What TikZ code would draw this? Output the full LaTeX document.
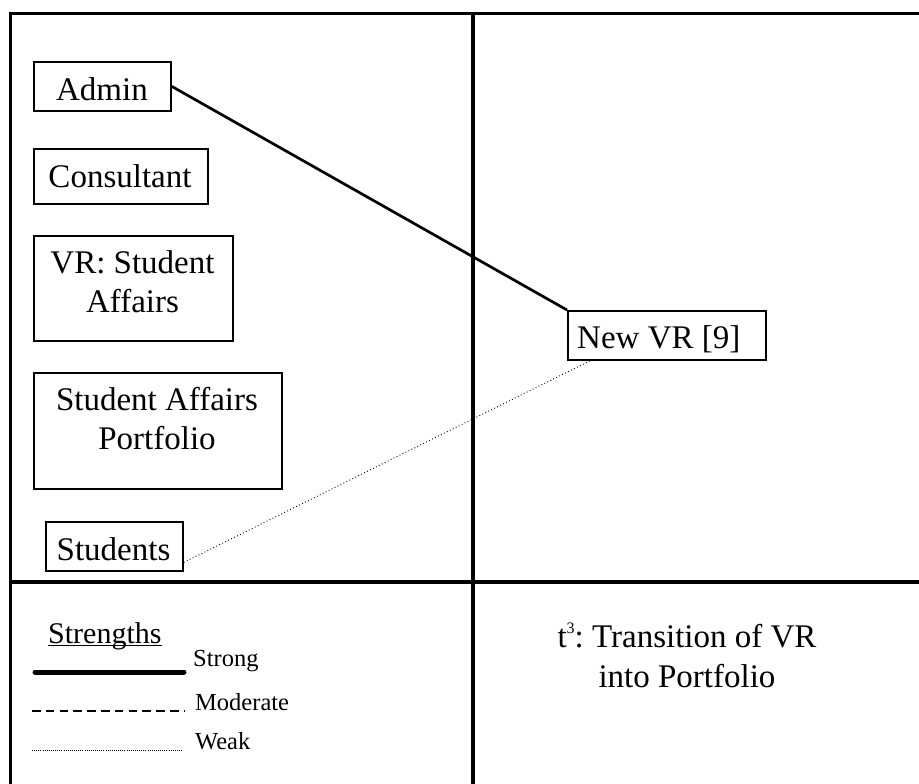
\documentclass[tikz,border=0pt]{standalone}
\usepackage{fontspec}
\setmainfont{Liberation Serif}
\newcommand{\smallsup}[1]{\raisebox{0.42em}{\fontsize{16}{16}\selectfont #1}}
\begin{document}
\frenchspacing
\begin{tikzpicture}[x=1pt,y=-1pt,
  box/.style={draw, line width=1.8pt, inner sep=0pt, anchor=north west},
  lbl/.style={font=\fontsize{33}{39.5}\selectfont, align=center, inner sep=0pt},
  key/.style={font=\fontsize{24.5}{29}\selectfont, inner sep=0pt, anchor=base west},
  framerule/.style={line width=3.8pt},
  divider/.style={line width=3.4pt},
  strongtie/.style={line width=2.7pt},
  weaktie/.style={line width=0.9pt, dash pattern=on 0.9pt off 2.4pt}
]
\useasboundingbox (0,0) rectangle (919,784);

% outer frame and quadrant dividers
\draw[framerule] (10.5,786) -- (10.5,13.5) -- (921,13.5);
\draw[divider] (473,13.5) -- (473,786);
\draw[divider] (10.5,582) -- (921,582);

% actor boxes
\node[box, minimum width=137, minimum height=49] (admin) at (33,61) {};
\node[lbl, anchor=base] (admintxt) at (102,100) {Admin};

\node[box, minimum width=174, minimum height=55] (consultant) at (33,148) {};
\node[lbl, anchor=base] (consultanttxt) at (120,187) {Consultant};

\node[box, minimum width=199, minimum height=105] (vrsa) at (33,235) {};
\node[lbl, anchor=north] (vrsatxt) at (132.5,250) {VR: Student\\Affairs};

\node[box, minimum width=248, minimum height=116] (portfolio) at (33,372) {};
\node[lbl, anchor=north] (portfoliotxt) at (157,387) {Student Affairs\\Portfolio};

\node[box, minimum width=137, minimum height=49] (students) at (45,521) {};
\node[lbl, anchor=base] (studentstxt) at (113.5,560) {Students};

\node[box, minimum width=198, minimum height=49] (newvr) at (567,310) {};
\node[lbl, anchor=base west] (newvrtxt) at (577,348) {New VR [9]};

% ties
\draw[strongtie] (admin.east) -- (newvr.north west);
\draw[weaktie] ([yshift=-16pt]students.east) -- ([xshift=23pt]newvr.south west);

% legend
\node[key, font=\fontsize{30}{34}\selectfont] (strengths) at (48,643) {Strengths};
\draw[line width=1.3pt] ([yshift=-2.5pt]strengths.base west) -- ([yshift=-2.5pt]strengths.base east);

\draw[line width=5pt, line cap=round] (35,672) -- (184,672);
\node[key] (strongtxt) at (193,666) {Strong};

\draw[line width=2.4pt, dash pattern=on 8.5pt off 5.3pt] (32,711) -- (185,711);
\node[key] (moderatetxt) at (195,710) {Moderate};

\draw[line width=1pt, dash pattern=on 0.8pt off 1.3pt] (32,750) -- (183,750);
\node[key] (weaktxt) at (195,749) {Weak};

% period caption
\node[lbl, anchor=north] (caption) at (687,623) {t\smallsup{3}: Transition of VR\\into Portfolio};
\end{tikzpicture}
\end{document}
